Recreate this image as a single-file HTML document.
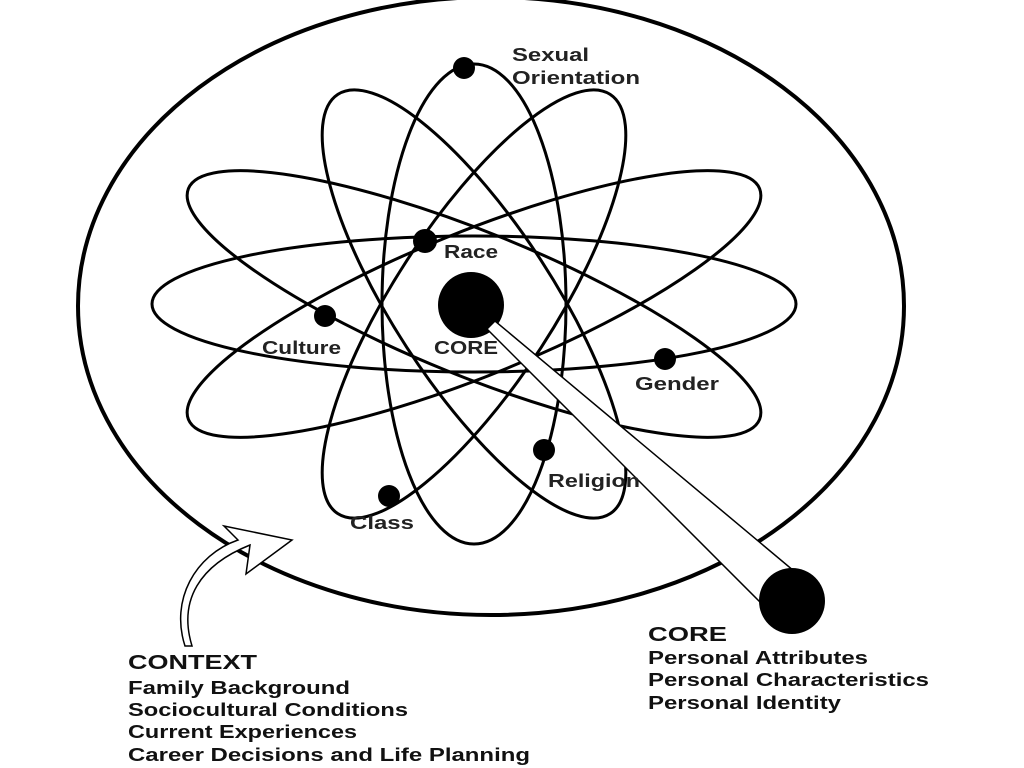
<!DOCTYPE html>
<html><head><style>
html,body{margin:0;padding:0;background:#fff;}
svg{display:block;}
text{font-family:"Liberation Sans",Arial,sans-serif;fill:#111;}
.l{font-size:18px;font-weight:bold;fill:#222;}
.b{font-size:18.5px;font-weight:bold;}
</style></head><body>
<svg width="1024" height="768" viewBox="0 0 1024 768">
<ellipse cx="491" cy="306" rx="413" ry="309" fill="none" stroke="#000" stroke-width="4"/>
<g fill="none" stroke="#000" stroke-width="3" transform="translate(474,304)">
<ellipse rx="322" ry="68"/>
<ellipse rx="308" ry="72" transform="rotate(22)"/>
<ellipse rx="308" ry="72" transform="rotate(-22)"/>
<ellipse rx="92" ry="240"/>
<ellipse rx="80" ry="250" transform="rotate(-33)"/>
<ellipse rx="80" ry="250" transform="rotate(33)"/>
</g>
<g fill="#000">
<circle cx="464" cy="68" r="11"/>
<circle cx="425" cy="241" r="12"/>
<circle cx="325" cy="316" r="11"/>
<circle cx="665" cy="359" r="11"/>
<circle cx="544" cy="450" r="11"/>
<circle cx="389" cy="496" r="11"/>
<circle cx="471" cy="305" r="33"/>
</g>
<polygon points="495,321 487,329 760,602 800,576" fill="#fff" stroke="#000" stroke-width="1.5"/>
<circle cx="792" cy="601" r="33" fill="#000"/>
<path d="M192,646 C178,600 200,565 250,545 L246,574 L292,540 L224,526 L238,540 C195,555 170,600 185,646 Z" fill="#fff" stroke="#000" stroke-width="1.5"/>
<text class="l" x="512" y="61" textLength="77" lengthAdjust="spacingAndGlyphs">Sexual</text>
<text class="l" x="512" y="84" textLength="128" lengthAdjust="spacingAndGlyphs">Orientation</text>
<text class="l" x="444" y="258" textLength="54" lengthAdjust="spacingAndGlyphs">Race</text>
<text class="l" x="262" y="354" textLength="79" lengthAdjust="spacingAndGlyphs">Culture</text>
<text class="l" x="434" y="354" textLength="64" lengthAdjust="spacingAndGlyphs">CORE</text>
<text class="l" x="635" y="390" textLength="84" lengthAdjust="spacingAndGlyphs">Gender</text>
<text class="l" x="548" y="487" textLength="92" lengthAdjust="spacingAndGlyphs">Religion</text>
<text class="l" x="350" y="529" textLength="64" lengthAdjust="spacingAndGlyphs">Class</text>
<text class="b" x="128" y="669" style="font-size:20px" textLength="129" lengthAdjust="spacingAndGlyphs">CONTEXT</text>
<text class="b" x="128" y="694" textLength="222" lengthAdjust="spacingAndGlyphs">Family Background</text>
<text class="b" x="128" y="716" textLength="280" lengthAdjust="spacingAndGlyphs">Sociocultural Conditions</text>
<text class="b" x="128" y="738" textLength="229" lengthAdjust="spacingAndGlyphs">Current Experiences</text>
<text class="b" x="128" y="761" textLength="402" lengthAdjust="spacingAndGlyphs">Career Decisions and Life Planning</text>
<text class="b" x="648" y="641" style="font-size:20px" textLength="79" lengthAdjust="spacingAndGlyphs">CORE</text>
<text class="b" x="648" y="664" textLength="220" lengthAdjust="spacingAndGlyphs">Personal Attributes</text>
<text class="b" x="648" y="686" textLength="281" lengthAdjust="spacingAndGlyphs">Personal Characteristics</text>
<text class="b" x="648" y="709" textLength="193" lengthAdjust="spacingAndGlyphs">Personal Identity</text>
</svg>
</body></html>
